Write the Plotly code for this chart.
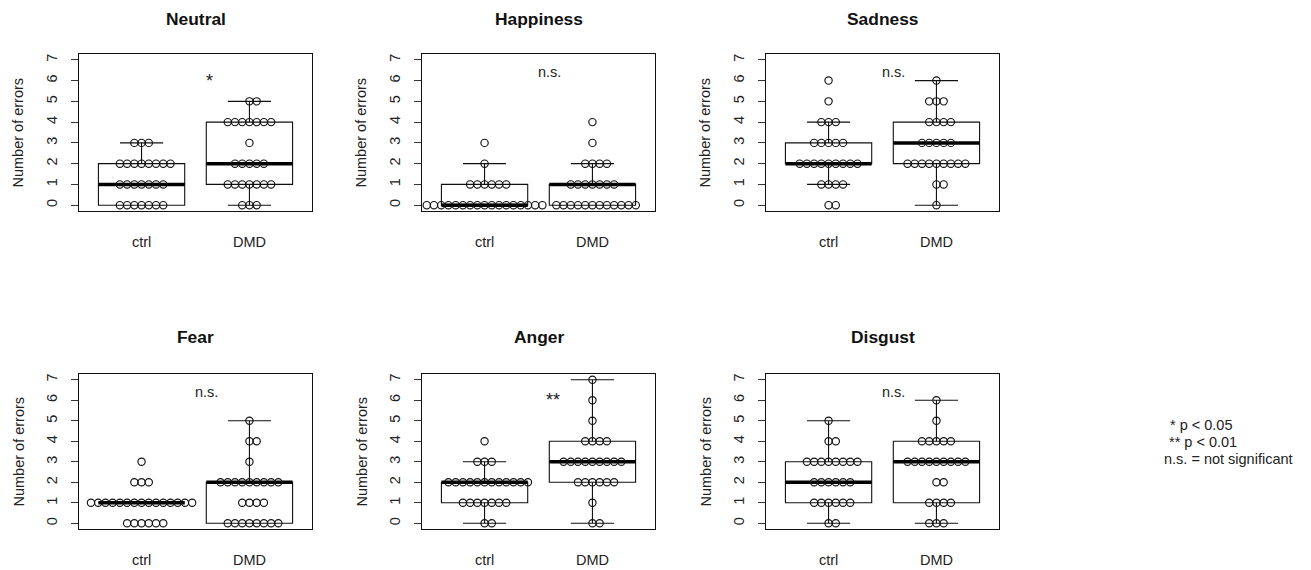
import math
import numpy as np
import plotly.graph_objects as go

W, H = 1311, 570

emotions = ["Neutral", "Happiness", "Sadness", "Fear", "Anger", "Disgust"]
groups = ["ctrl", "DMD"]
levels = [0, 1, 2, 3, 4, 5, 6, 7]

# number of participants at each error level (0..7)
neutral_ctrl = [7, 7, 8, 3, 0, 0, 0, 0]
neutral_dmd = [3, 7, 5, 1, 7, 2, 0, 0]
happiness_ctrl = [17, 6, 1, 1, 0, 0, 0, 0]
happiness_dmd = [12, 7, 4, 1, 1, 0, 0, 0]
sadness_ctrl = [2, 4, 9, 5, 3, 1, 1, 0]
sadness_dmd = [1, 2, 9, 5, 4, 3, 1, 0]
fear_ctrl = [6, 15, 3, 1, 0, 0, 0, 0]
fear_dmd = [8, 4, 9, 1, 2, 1, 0, 0]
anger_ctrl = [2, 7, 12, 3, 1, 0, 0, 0]
anger_dmd = [2, 1, 6, 9, 4, 1, 1, 1]
disgust_ctrl = [2, 6, 6, 8, 2, 1, 0, 0]
disgust_dmd = [3, 4, 2, 9, 5, 1, 1, 0]

significance = ["*", "n.s.", "n.s.", "n.s.", "**", "n.s."]
legend_lines = ["* p < 0.05", "** p < 0.01", "n.s. = not significant"]
y_title = "Number of errors"

panel_counts = [
    (neutral_ctrl, neutral_dmd),
    (happiness_ctrl, happiness_dmd),
    (sadness_ctrl, sadness_dmd),
    (fear_ctrl, fear_dmd),
    (anger_ctrl, anger_dmd),
    (disgust_ctrl, disgust_dmd),
]

FONT = "Liberation Sans, Arial, Helvetica, sans-serif"
FS = 14.5


def expand(counts):
    return np.repeat(levels, counts).astype(float)


def tukey_stats(vals):
    x = np.sort(vals)
    n = len(x)
    n4 = math.floor((n + 3) / 2) / 2
    d = [1, n4, (n + 1) / 2, n + 1 - n4, n]
    f = [0.5 * (x[math.floor(di) - 1] + x[math.ceil(di) - 1]) for di in d]
    q1, med, q3 = f[1], f[2], f[3]
    iqr = q3 - q1
    lo = x[x >= q1 - 1.5 * iqr].min()
    hi = x[x <= q3 + 1.5 * iqr].max()
    return q1, med, q3, lo, hi


def swarm_offsets(k, pitch):
    out = []
    for i in range(k):
        if i % 2 == 1:
            out.append(((i + 1) // 2) * pitch)
        else:
            out.append(-(i // 2) * pitch)
    return out


# panel geometry in pixels
lefts = [79, 422, 766]
pw = 233
rows = [(54, 211), (374, 529)]
title_y = [19, 337]

fig = go.Figure()
PITCH = 0.067
XR = [0.42, 2.58]
YR = [-0.28, 7.28]

for p, emo in enumerate(emotions):
    r, c = divmod(p, 3)
    ax = "" if p == 0 else str(p + 1)
    xa, ya = "x" + ax, "y" + ax
    for g, counts in enumerate(panel_counts[p]):
        pos = g + 1
        vals = expand(counts)
        q1, med, q3, lo, hi = tukey_stats(vals)
        fig.add_trace(go.Box(
            x=[pos], q1=[q1], median=[med], q3=[q3],
            lowerfence=[lo], upperfence=[hi],
            width=0.8, whiskerwidth=0.5, boxpoints=False,
            fillcolor="rgba(0,0,0,0)",
            line=dict(color="#111", width=1.1),
            xaxis=xa, yaxis=ya, hoverinfo="skip",
        ))
        fig.add_trace(go.Scatter(
            x=[pos - 0.4, pos + 0.4], y=[med, med], mode="lines",
            line=dict(color="black", width=3.5),
            xaxis=xa, yaxis=ya, hoverinfo="skip",
        ))
        xs, ys = [], []
        for lev, k in zip(levels, counts):
            for off in swarm_offsets(k, PITCH):
                xs.append(pos + off)
                ys.append(lev)
        fig.add_trace(go.Scatter(
            x=xs, y=ys, mode="markers",
            marker=dict(symbol="circle-open", size=7.3,
                        color="#111", line=dict(width=1.15)),
            xaxis=xa, yaxis=ya, hoverinfo="skip",
        ))

    top, bot = rows[r]
    left = lefts[c]
    xdom = [left / W, (left + pw) / W]
    ydom = [1 - bot / H, 1 - top / H]
    fig.update_layout(**{
        "xaxis" + ax: dict(
            domain=xdom, range=XR, tickvals=[1, 2], ticktext=groups,
            ticks="", showline=True, mirror=True, linecolor="#111",
            linewidth=1.2, showgrid=False, zeroline=False,
            ticklabelstandoff=17, anchor=ya, fixedrange=True,
            tickfont=dict(family=FONT, size=FS, color="#222"),
        ),
        "yaxis" + ax: dict(
            domain=ydom, range=YR, tickvals=levels,
            ticks="outside", ticklen=7, tickcolor="#333", tickwidth=1,
            tickangle=-90, showline=True, mirror=True, linecolor="#111",
            linewidth=1.2, showgrid=False, zeroline=False,
            ticklabelstandoff=8, anchor=xa, fixedrange=True,
            tickfont=dict(family=FONT, size=FS, color="#222"),
        ),
    })
    # panel title
    fig.add_annotation(
        x=(left + pw / 2) / W, y=1 - title_y[r] / H, xref="paper", yref="paper",
        text="<b>" + emo + "</b>", showarrow=False,
        xanchor="center", yanchor="middle",
        font=dict(family=FONT, size=17.4, color="#111"),
    )
    # y axis title
    fig.add_annotation(
        x=(left - 61) / W, y=1 - (top + bot) / 2 / H, xref="paper", yref="paper",
        text=y_title, textangle=-90, showarrow=False,
        xanchor="center", yanchor="middle",
        font=dict(family=FONT, size=FS, color="#222"),
    )
    # significance label
    sig = significance[p]
    is_star = "*" in sig
    fig.add_annotation(
        x=1.63 if is_star else 1.6, y=6.0 if is_star else 6.4,
        xref=xa, yref=ya, text=sig, showarrow=False,
        xanchor="center", yanchor="middle",
        font=dict(family=FONT, size=18 if is_star else FS, color="#222"),
    )

legend_x = [1168, 1167, 1162]
legend_y = [425, 442, 459]
for txt, lx, ly in zip(legend_lines, legend_x, legend_y):
    fig.add_annotation(
        x=lx / W, y=1 - ly / H, xref="paper", yref="paper",
        text=txt, showarrow=False, xanchor="left", yanchor="middle",
        font=dict(family=FONT, size=FS, color="#222"),
    )

fig.update_layout(
    width=W, height=H, margin=dict(l=0, r=0, t=0, b=0),
    paper_bgcolor="white", plot_bgcolor="white", showlegend=False,
    boxmode="overlay",
)

fig.write_html("out.html", config={"displayModeBar": False})
